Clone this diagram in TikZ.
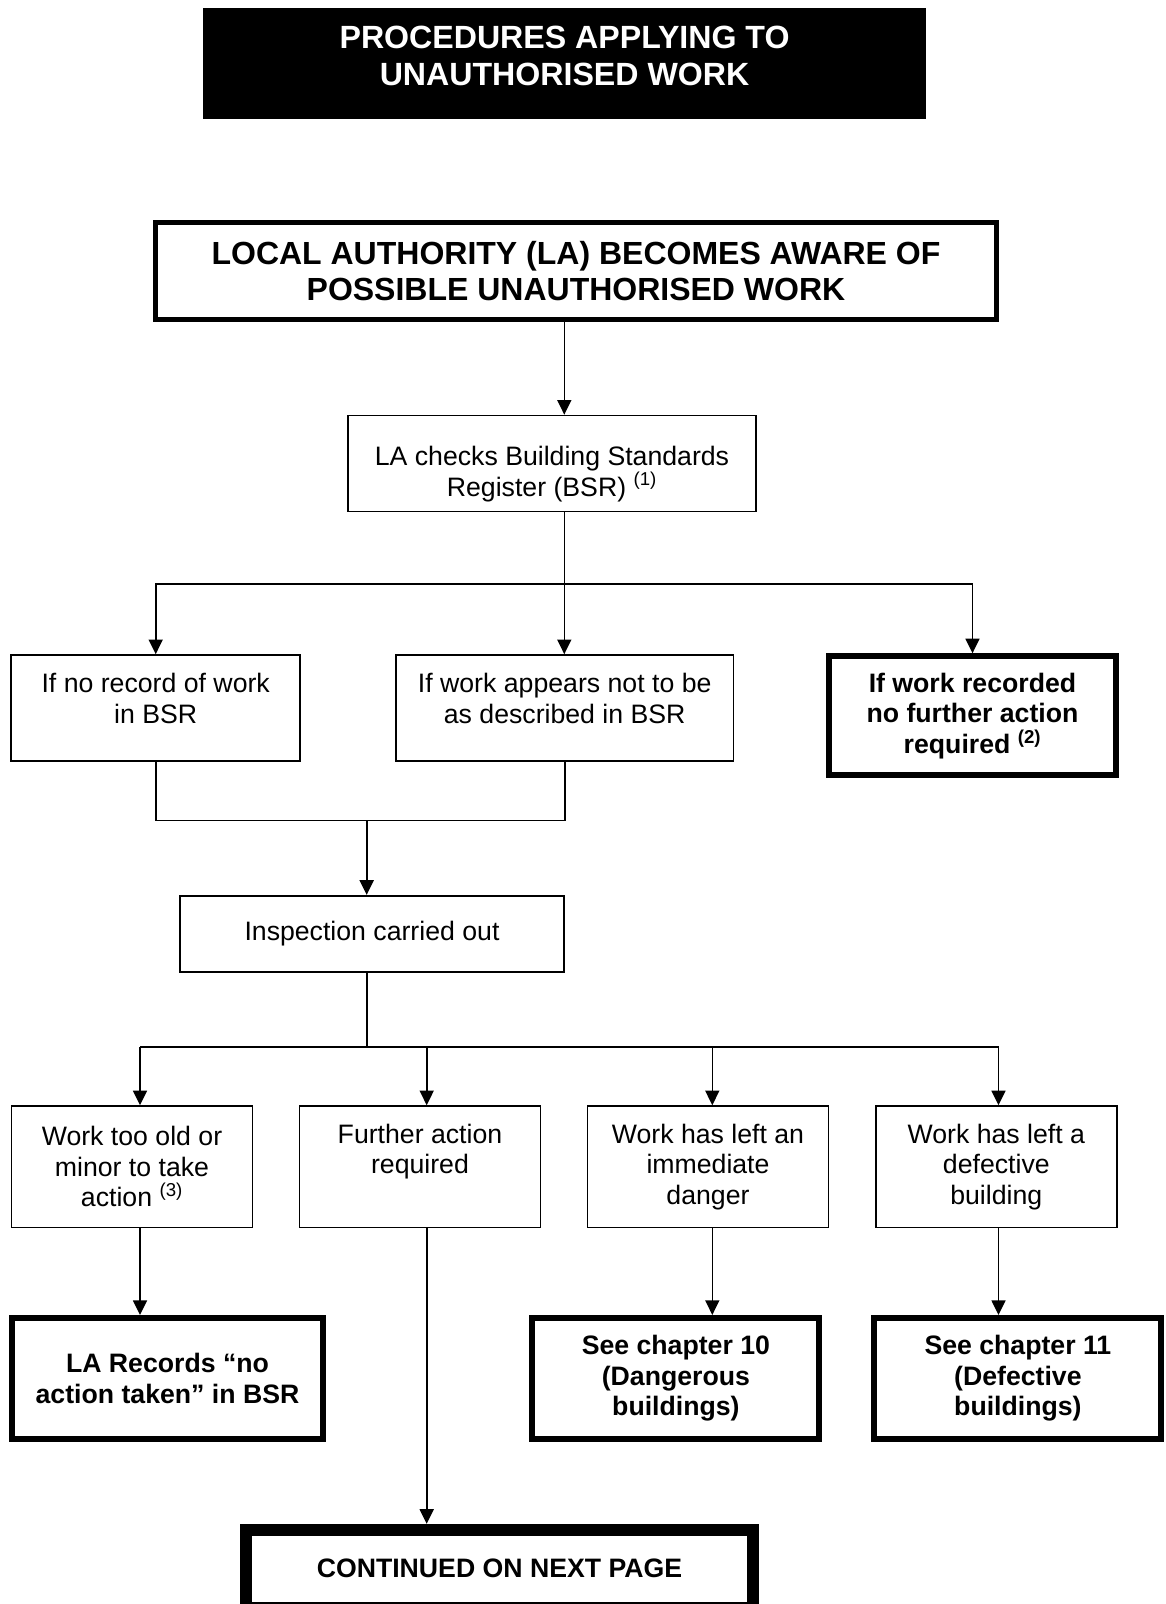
\documentclass[tikz,border=0pt]{standalone}
\usepackage{fontspec}
\setmainfont{Liberation Sans}
\usetikzlibrary{arrows.meta}

\tikzset{
  plainbox/.style={draw,line width=1.2pt,inner sep=0pt,align=center,font=\fontsize{20}{22.9}\selectfont},
  boldbox/.style={draw,line width=4.5pt,inner sep=0pt,align=center,font=\fontsize{20}{22.9}\selectfont\bfseries},
  link/.style={line width=1.2pt},
  arrowlink/.style={line width=1.2pt,-{Triangle[width=10.5pt,length=11pt]}},
}

\begin{document}
\begin{tikzpicture}[x=0.75pt,y=0.75pt,yscale=-1,xscale=1]
\useasboundingbox (0,0) rectangle (1166,1604);
\clip (0,0) rectangle (1166,1604);

%Title
\node [fill=black,text=white,minimum width=541.6pt,minimum height=82.95pt,inner sep=0pt,align=center,font=\fontsize{24.1}{27.6}\selectfont\bfseries] (title) at (564.55,63.3) {PROCEDURES APPLYING TO\\UNAUTHORISED WORK\\[-16.8pt]\mbox{}};

%Shape: Rectangle [first row]
\node [boldbox,line width=3.75pt,minimum width=630.75pt,minimum height=72.75pt,font=\fontsize{24}{27.6}\selectfont\bfseries] (aware) at (576,271) {LOCAL AUTHORITY (LA) BECOMES AWARE OF\\POSSIBLE UNAUTHORISED WORK};
\node [plainbox,minimum width=306pt,minimum height=72pt] (checks) at (552,463.5) {\mbox{}\\[7.1pt]LA checks Building Standards\\Register (BSR) \textsuperscript{(1)}};

%Shape: Rectangle [BSR outcomes]
\node [plainbox,minimum width=216.75pt,minimum height=79.5pt] (norecord) at (155.7,708) {If no record of work\\in BSR\\[-8.3pt]\mbox{}};
\node [plainbox,minimum width=253pt,minimum height=79.5pt] (notdescribed) at (564.7,708) {If work appears not to be\\as described in BSR\\[-8.3pt]\mbox{}};
\node [boldbox,minimum width=215.7pt,minimum height=89.25pt] (recorded) at (972.5,715.8) {If work recorded\\no further action\\required \textsuperscript{(2)}};

\node [plainbox,minimum width=288pt,minimum height=57pt] (inspection) at (372,933.7) {Inspection carried out};

%Shape: Rectangle [inspection outcomes]
\node [plainbox,minimum width=180.75pt,minimum height=91.1pt] (tooold) at (132,1166.8) {Work too old or\\minor to take\\action \textsuperscript{(3)}};
\node [plainbox,minimum width=180.75pt,minimum height=91.1pt] (further) at (420,1166.8) {Further action\\required\\[3.9pt]\mbox{}};
\node [plainbox,minimum width=180.75pt,minimum height=91.1pt] (danger) at (708,1166.8) {Work has left an\\immediate\\danger};
\node [plainbox,minimum width=180.75pt,minimum height=91.1pt] (defective) at (996.3,1166.8) {Work has left a\\defective\\building};

%Shape: Rectangle [end boxes]
\node [boldbox,minimum width=233.25pt,minimum height=90.5pt] (noaction) at (167.5,1378.3) {LA Records “no\\action taken” in BSR};
\node [boldbox,minimum width=215.25pt,minimum height=90.5pt] (chapten) at (675.9,1378.3) {See chapter 10\\(Dangerous\\buildings)};
\node [boldbox,minimum width=215.25pt,minimum height=90.5pt] (chapeleven) at (1017.9,1378.3) {See chapter 11\\(Defective\\buildings)};
\node [boldbox,line width=9pt,minimum width=379.7pt,minimum height=58.4pt] (nextpage) at (499.5,1568.8) {CONTINUED ON NEXT PAGE};

\coordinate (fork1) at (564.3,584);
\coordinate (join1) at (366.7,820.3);
\coordinate (fork2) at (366.7,1046.7);
\coordinate (drop1) at (140,1046.7);
\coordinate (drop2) at (426.7,1046.7);
\coordinate (drop3) at (712.3,1046.7);
\coordinate (drop4) at (998.5,1046.7);

%Straight Lines
\draw [arrowlink] (aware.south -| fork1) -- (checks.north -| fork1);
\draw [link] (checks.south -| fork1) -- (fork1);
\draw [arrowlink] (fork1) -| (norecord.north);
\draw [arrowlink] (fork1) -- (notdescribed.north -| fork1);
\draw [arrowlink] (fork1) -| (recorded.north);
%Straight Lines
\draw [link] (norecord.south) |- (join1) -| (notdescribed.south);
\draw [arrowlink] (join1) -- (inspection.north -| join1);
%Straight Lines
\draw [link] (inspection.south -| fork2) -- (fork2);
\draw [link] (drop1) -- (drop4);
\draw [arrowlink] (drop1) -- (drop1 |- tooold.north);
\draw [arrowlink] (drop2) -- (drop2 |- further.north);
\draw [arrowlink] (drop3) -- (drop3 |- danger.north);
\draw [arrowlink] (drop4) -- (drop4 |- defective.north);
%Straight Lines
\draw [arrowlink] (drop1 |- tooold.south) -- (drop1 |- noaction.north);
\draw [arrowlink] (drop2 |- further.south) -- (drop2 |- nextpage.north);
\draw [arrowlink] (drop3 |- danger.south) -- (drop3 |- chapten.north);
\draw [arrowlink] (drop4 |- defective.south) -- (drop4 |- chapeleven.north);
\end{tikzpicture}
\end{document}
